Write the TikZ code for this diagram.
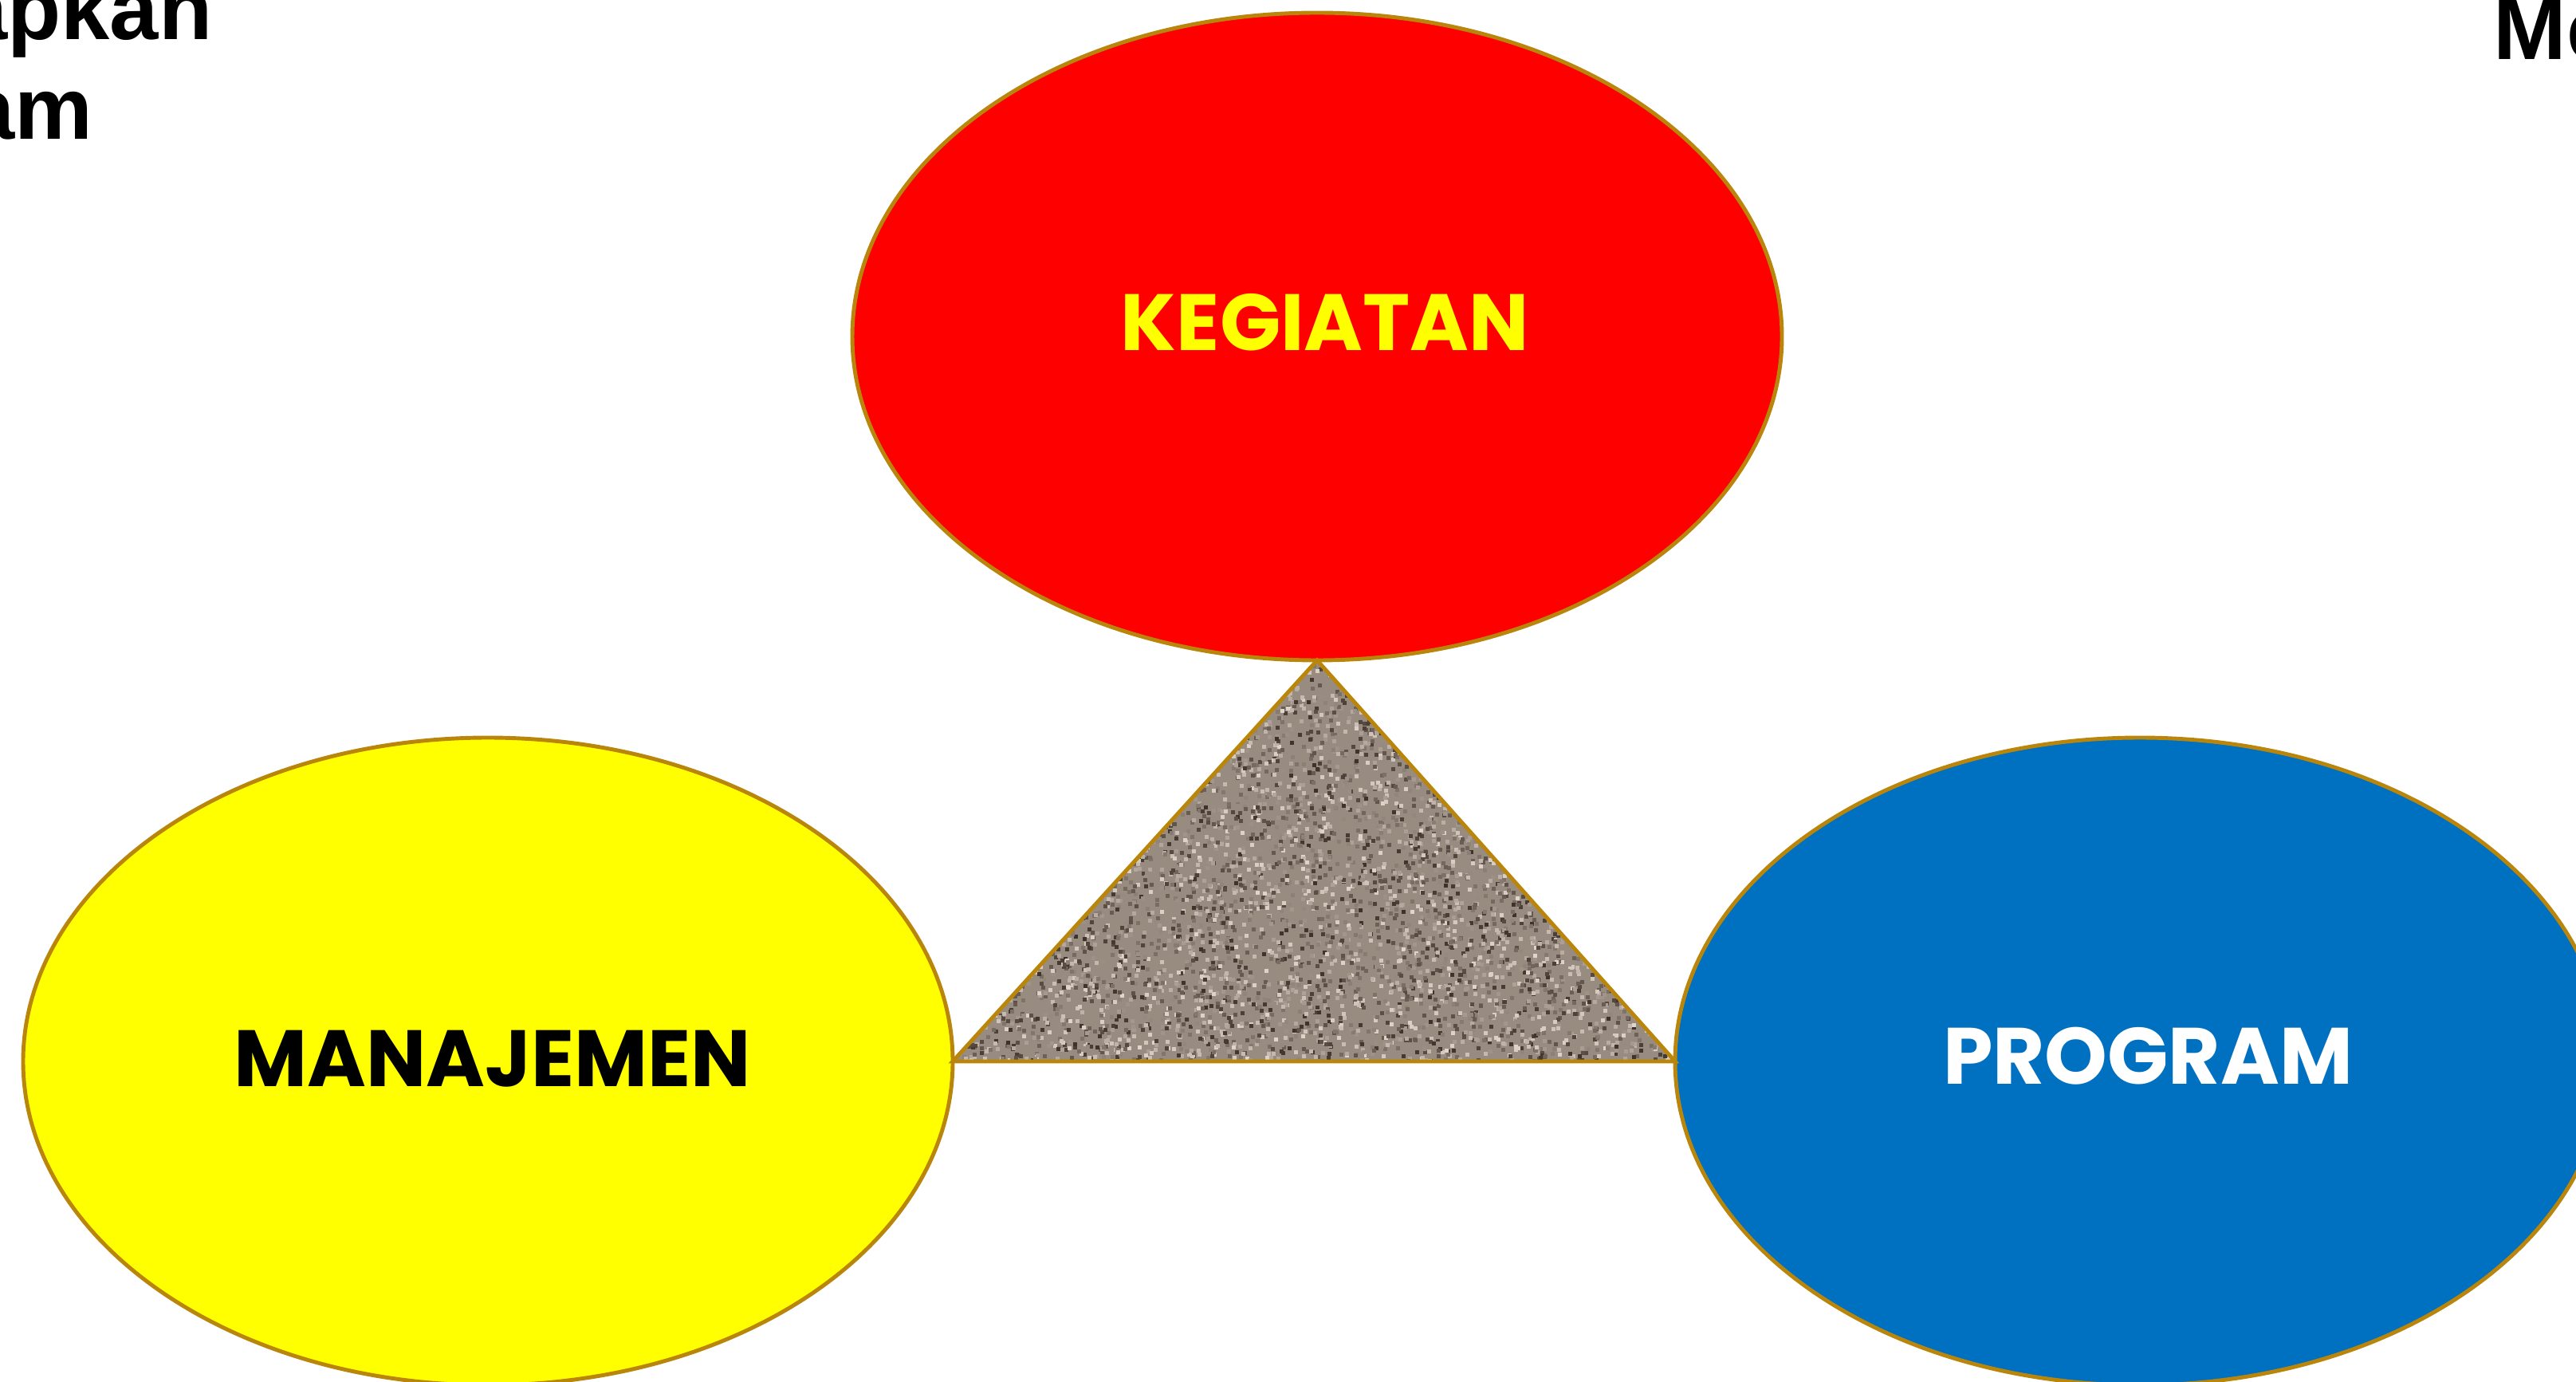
\documentclass[tikz,border=0pt]{standalone}
\usepackage{fontspec}
\usepackage{tikz}
\usetikzlibrary{shapes.geometric}
\usetikzlibrary{positioning}
\setmainfont{Liberation Sans}
\newfontfamily\labelfont{Poppins}

\definecolor{rimgold}{RGB}{185,134,11}
\definecolor{kegred}{RGB}{255,0,0}
\definecolor{manyellow}{RGB}{255,255,0}
\definecolor{progblue}{RGB}{0,112,192}
\definecolor{sandbase}{RGB}{152,139,128}
\definecolor{sanddark}{RGB}{60,48,40}
\definecolor{sandlight}{RGB}{225,212,202}

\tikzset{
    bubble/.style={
           ellipse,
           draw=rimgold, line width=1.4pt,
           minimum width=11.66cm,
           minimum height=8.12cm,
           inner sep=0pt,
           outer sep=0pt,
           },
    bubbletext/.style={
           font=\labelfont\bfseries\fontsize{28.5}{30}\selectfont,
           inner sep=0pt,
           },
    cornertext/.style={
           font=\bfseries\fontsize{31.3}{36}\selectfont,
           inner sep=0pt,
           },
}

\begin{document}
\begin{tikzpicture}
        \useasboundingbox (0,0) rectangle (32.31,-17.33);

        % ELLIPSE KEGIATAN (top)
        \node[bubble, fill=kegred] (ELL_KEG) at (16.52,-4.22) {};
        \node[bubbletext, text=manyellow] (TXT_KEG) at (16.62,-4.04) {KEGIATAN};

        % ELLIPSE MANAJEMEN (left)
        \node[bubble, fill=manyellow] (ELL_MAN) at (6.12,-13.31) {};
        \node[bubbletext, text=black] (TXT_MAN) at (6.18,-13.28) {MANAJEMEN};

        % ELLIPSE PROGRAM (right)
        \node[bubble, fill=progblue] (ELL_PROG) at (26.84,-13.31) {};
        \node[bubbletext, text=white] (TXT_PROG) at (26.94,-13.24) {PROGRAM};

        % TRIANGLE between the three ellipses, speckled fill
        \fill[sandbase] (ELL_KEG.south) -- (ELL_MAN.east) -- (ELL_PROG.west) -- cycle;
        \begin{scope}
            \clip (ELL_KEG.south) -- (ELL_MAN.east) -- (ELL_PROG.west) -- cycle;
            \pgfmathsetseed{42}
            \foreach \i in {1,...,7000}{
                \pgfmathsetmacro\px{11.95+9.06*rnd}
                \pgfmathsetmacro\py{-8.28-5.05*rnd}
                \pgfmathsetmacro\sh{int(100*rnd)}
                \fill[sanddark!\sh!sandlight] (\px,\py) rectangle ++(0.05,0.05);
            }
        \end{scope}
        \draw[rimgold, line width=1.4pt, line join=miter]
            (ELL_KEG.south) -- (ELL_MAN.east) -- (ELL_PROG.west) -- cycle;

        % CUT-OFF TEXT at the corners
        \node[cornertext, anchor=base east] (TXT_TL1) at (2.67,-0.50) {apkan};
        \node[cornertext, anchor=base east] (TXT_TL2) at (1.17,-1.75) {am};
        \node[cornertext, anchor=base west] (TXT_TR) at (31.27,-0.75) {Me};
\end{tikzpicture}
\end{document}
